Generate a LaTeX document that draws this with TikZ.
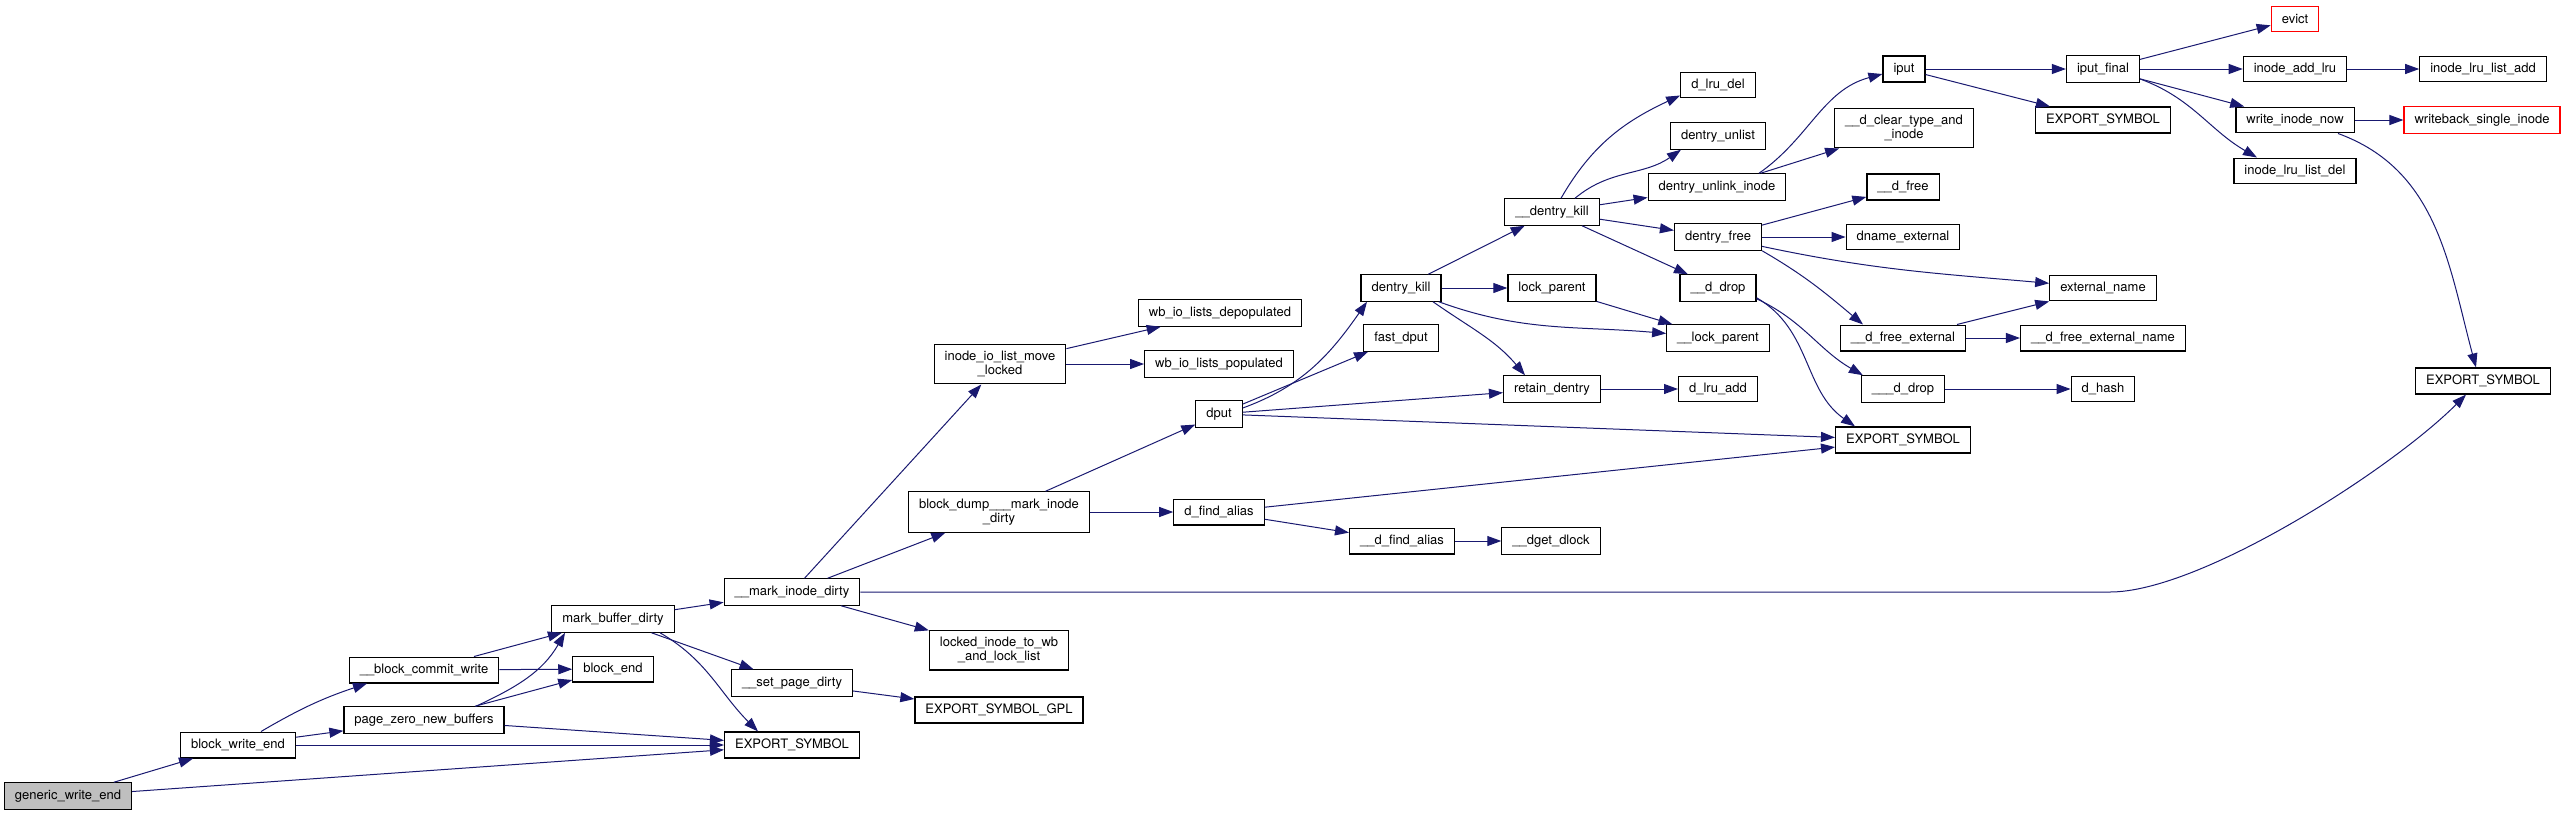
\documentclass[tikz,border=0pt]{standalone}
\usepackage{fontspec}
\setmainfont{TeX Gyre Heros}
\usepackage{tikz}
\usetikzlibrary{arrows.meta}
\definecolor{edgeblue}{HTML}{191970}
\definecolor{rootgray}{HTML}{BFBFBF}
\definecolor{truncred}{HTML}{FF0000}

\begin{document}
\begin{tikzpicture}[
  x=1pt,y=1pt,
  every node/.style={font=\fontsize{13}{14}\selectfont,align=center},
  fnnode/.style={draw=black,fill=white,line width=1.2pt,inner xsep=10.5pt,inner ysep=7pt,minimum height=25.5pt},
  rootnode/.style={fnnode,fill=rootgray},
  truncnode/.style={fnnode,draw=truncred},
  arrow/.style={-{Triangle[length=14pt,width=10pt]},line width=1pt,draw=edgeblue}
]
\useasboundingbox (0,0) rectangle (2567,-815);

% callers side
\node[rootnode] (gwe) at (68,-796) {generic\_write\_end};
\node[fnnode] (bwe) at (238,-745) {block\_write\_end};
\node[fnnode] (bcw) at (424,-670) {\_\_block\_commit\_write};
\node[fnnode] (pznb) at (424,-720) {page\_zero\_new\_buffers};
\node[fnnode] (mbd) at (613,-619) {mark\_buffer\_dirty};
\node[fnnode] (blkend) at (613,-669) {block\_end};
\node[fnnode] (mid) at (792,-592) {\_\_mark\_inode\_dirty};
\node[fnnode] (spd) at (792,-683) {\_\_set\_page\_dirty};
\node[fnnode] (esbot) at (792,-745) {EXPORT\_SYMBOL};
\node[fnnode] (iolm) at (1000,-364) {inode\_io\_list\_move\\\_locked};
\node[fnnode] (bdmid) at (999,-512) {block\_dump\_\_\_mark\_inode\\\_dirty};
\node[fnnode] (lockwb) at (999,-650) {locked\_inode\_to\_wb\\\_and\_lock\_list};
\node[fnnode] (esgpl) at (999,-710) {EXPORT\_SYMBOL\_GPL};
\node[fnnode] (wbdep) at (1220,-313) {wb\_io\_lists\_depopulated};
\node[fnnode] (wbpop) at (1219,-364) {wb\_io\_lists\_populated};
\node[fnnode] (dput) at (1219,-414) {dput};
\node[fnnode] (dfa) at (1219,-512) {d\_find\_alias};
\node[fnnode] (udfa) at (1402,-541) {\_\_d\_find\_alias};
\node[fnnode] (dget) at (1551,-541) {\_\_dget\_dlock};
\node[fnnode] (dkill) at (1401,-288) {dentry\_kill};
\node[fnnode] (fdput) at (1401,-338) {fast\_dput};
\node[fnnode] (udkill) at (1552,-212) {\_\_dentry\_kill};
\node[fnnode] (lockp) at (1552,-288) {lock\_parent};
\node[fnnode] (retd) at (1552,-389) {retain\_dentry};

% dentry column
\node[fnnode] (lrudel) at (1718,-85) {d\_lru\_del};
\node[fnnode] (unlist) at (1718,-136) {dentry\_unlist};
\node[fnnode] (unlink) at (1717,-187) {dentry\_unlink\_inode};
\node[fnnode] (dfree) at (1718,-237) {dentry\_free};
\node[fnnode] (ddrop) at (1718,-288) {\_\_d\_drop};
\node[fnnode] (ulockp) at (1718,-338) {\_\_lock\_parent};
\node[fnnode] (lruadd) at (1718,-389) {d\_lru\_add};

\node[fnnode] (iput) at (1904,-69) {iput};
\node[fnnode] (clear) at (1904,-128) {\_\_d\_clear\_type\_and\\\_inode};
\node[fnnode] (udfree) at (1903,-187) {\_\_d\_free};
\node[fnnode] (dname) at (1903,-237) {dname\_external};
\node[fnnode] (dfext) at (1903,-338) {\_\_d\_free\_external};
\node[fnnode] (dddrop) at (1903,-389) {\_\_\_d\_drop};
\node[fnnode] (esmid) at (1903,-440) {EXPORT\_SYMBOL};

\node[fnnode] (iputf) at (2103,-69) {iput\_final};
\node[fnnode] (estop) at (2103,-120) {EXPORT\_SYMBOL};
\node[fnnode] (extname) at (2103,-288) {external\_name};
\node[fnnode] (dfextname) at (2103,-338) {\_\_d\_free\_external\_name};
\node[fnnode] (dhash) at (2103,-389) {d\_hash};

\node[truncnode] (evict) at (2295,-19) {evict};
\node[fnnode] (addlru) at (2295,-69) {inode\_add\_lru};
\node[fnnode] (win) at (2295,-120) {write\_inode\_now};
\node[fnnode] (lrudel2) at (2295,-171) {inode\_lru\_list\_del};
\node[fnnode] (lruadd2) at (2483,-69) {inode\_lru\_list\_add};
\node[truncnode] (wbsi) at (2482,-120) {writeback\_single\_inode};
\node[fnnode] (esright) at (2483,-381) {EXPORT\_SYMBOL};

\coordinate (turn) at (2110,-592);

\draw[arrow] (gwe) -- (bwe);
\draw[arrow] (gwe) -- (esbot);
\draw[arrow] ([xshift=23pt]bwe.north) to[bend left=6] ([xshift=-57pt]bcw.south);
\draw[arrow] (bwe) -- (pznb);
\draw[arrow] (bwe) -- (esbot);
\draw[arrow] (bcw) -- (mbd);
\draw[arrow] (bcw) -- (blkend);
\draw[arrow] ([xshift=52pt]pznb.north) to[out=25,in=-120] ([xshift=-48pt]mbd.south);
\draw[arrow] (pznb) -- (blkend);
\draw[arrow] (pznb) -- (esbot);
\draw[arrow] (mbd) -- (mid);
\draw[arrow] (mbd) -- (spd);
\draw[arrow] ([xshift=47pt]mbd.south) to[out=-30,in=135] ([xshift=-34pt]esbot.north);
\draw[arrow] (spd) -- (esgpl);
\draw[arrow] (mid) -- (iolm);
\draw[arrow] (mid) -- (bdmid);
\draw[arrow] (mid) -- (lockwb);
\draw[arrow] (mid.east) -- (turn) .. controls +(90,0) and +(-76,-76) .. ([xshift=-17pt]esright.south);
\draw[arrow] (iolm) -- (wbdep);
\draw[arrow] (iolm) -- (wbpop);
\draw[arrow] (bdmid) -- (dput);
\draw[arrow] (bdmid) -- (dfa);
\draw[arrow] (dfa) -- (udfa);
\draw[arrow] (dfa) -- (esmid);
\draw[arrow] (udfa) -- (dget);
\draw[arrow] ([yshift=6pt]dput.east) to[out=20,in=-125] ([xshift=-34pt]dkill.south);
\draw[arrow] (dput) -- (fdput);
\draw[arrow] (dput) -- (retd);
\draw[arrow] (dput) -- (esmid);
\draw[arrow] (dkill) -- (udkill);
\draw[arrow] (dkill) -- (lockp);
\draw[arrow] (dkill) to[out=-20,in=175] (ulockp);
\draw[arrow] ([xshift=32pt]dkill.south) to[out=-35,in=130] ([xshift=-27pt]retd.north);
\draw[arrow] (lockp) -- (ulockp);
\draw[arrow] (retd) -- (lruadd);
\draw[arrow] ([xshift=9pt]udkill.north) to[out=60,in=-155] ([yshift=3pt]lrudel.south west);
\draw[arrow] ([xshift=23pt]udkill.north) to[out=40,in=-145] ([xshift=11pt]unlist.south west);
\draw[arrow] (udkill) -- (unlink);
\draw[arrow] (udkill) -- (dfree);
\draw[arrow] (udkill) -- (ddrop);
\draw[arrow] ([xshift=42pt]unlink.north) to[out=35,in=-165] ([yshift=-5pt]iput.west);
\draw[arrow] (unlink) -- (clear);
\draw[arrow] (dfree) -- (udfree);
\draw[arrow] (dfree) -- (dname);
\draw[arrow] (dfree) to[out=-12,in=175] (extname);
\draw[arrow] (dfree.south east) to[out=-30,in=140] ([xshift=-40pt]dfext.north);
\draw[arrow] ([yshift=3pt]ddrop.south east) to[out=-25,in=150] ([xshift=2pt]dddrop.north west);
\draw[arrow] ([yshift=4pt]ddrop.south east) to[out=-30,in=145] ([xshift=-48pt]esmid.north);
\draw[arrow] (dfext) -- (extname);
\draw[arrow] (dfext) -- (dfextname);
\draw[arrow] (dddrop) -- (dhash);
\draw[arrow] (iput) -- (iputf);
\draw[arrow] (iput) -- (estop);
\draw[arrow] (iputf) -- (evict);
\draw[arrow] (iputf) -- (addlru);
\draw[arrow] (iputf) -- (win);
\draw[arrow] ([yshift=-10pt]iputf.east) to[out=-20,in=150] ([xshift=-38pt]lrudel2.north);
\draw[arrow] (addlru) -- (lruadd2);
\draw[arrow] (win) -- (wbsi);
\draw[arrow] ([xshift=43pt]win.south) to[out=-20,in=105] ([xshift=-7pt]esright.north);
\end{tikzpicture}
\end{document}
